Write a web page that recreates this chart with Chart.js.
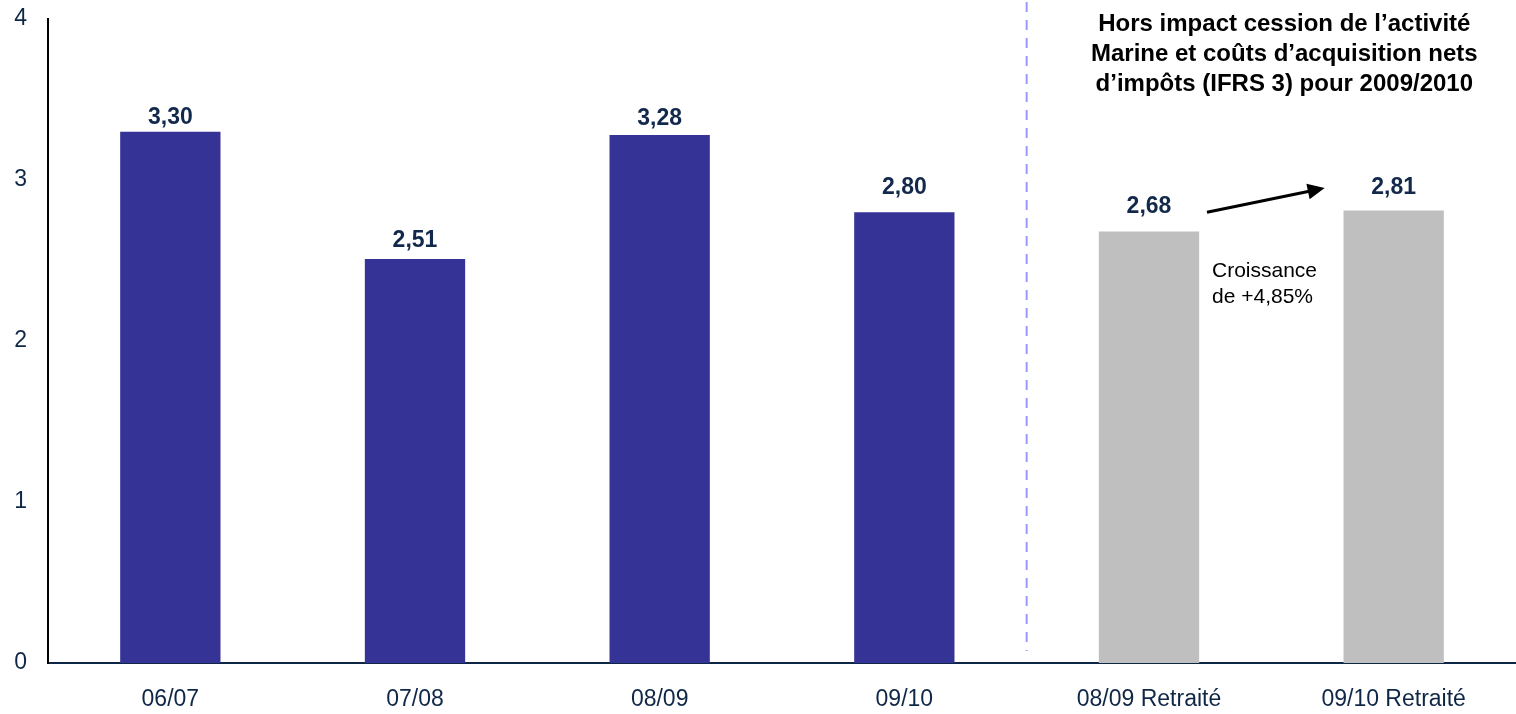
<!DOCTYPE html>
<html>
<head>
<meta charset="utf-8">
<script src="https://cdn.jsdelivr.net/npm/chart.js@4"></script>
<style>
  html, body { margin: 0; padding: 0; background: #fff; }
  #wrap { width: 1516px; height: 714px; }
</style>
</head>
<body>
<div id="wrap"><canvas id="barChart"></canvas></div>
<script>
const categories = ['06/07', '07/08', '08/09', '09/10', '08/09 Retraité', '09/10 Retraité'];
const values = [3.30, 2.51, 3.28, 2.80, 2.68, 2.81];
const barColors = ['#353396', '#353396', '#353396', '#353396', '#BFBFBF', '#BFBFBF'];
const yTicks = [0, 1, 2, 3, 4];
const noteLines = ['Hors impact cession de l\u2019activité', 'Marine et coûts d\u2019acquisition nets', 'd\u2019impôts (IFRS 3) pour 2009/2010'];
const growthLines = ['Croissance', 'de +4,85%'];

const FONT = '"Liberation Sans", Arial, sans-serif';
const NAVY = '#0F2747';

const extras = {
    id: 'extras',
    afterDatasetsDraw(chart, args, opts) {
        const ctx = chart.ctx;
        const x = chart.scales.x, y = chart.scales.y;
        const meta = chart.getDatasetMeta(0);
        ctx.save();

        // value labels
        ctx.font = 'bold 23px ' + FONT;
        ctx.fillStyle = '#13294B';
        ctx.textAlign = 'center';
        ctx.textBaseline = 'alphabetic';
        meta.data.forEach((bar, i) => {
            ctx.fillText(values[i].toFixed(2).replace('.', ','), bar.x, bar.y - opts.labelGaps[i]);
        });

        // dashed separator
        const sepX = (x.getPixelForValue(3) + x.getPixelForValue(4)) / 2;
        ctx.strokeStyle = '#9999FF';
        ctx.lineWidth = 2;
        ctx.setLineDash([10, 8]);
        ctx.beginPath();
        ctx.moveTo(sepX, 2);
        ctx.lineTo(sepX, y.getPixelForValue(0) - 12);
        ctx.stroke();
        ctx.setLineDash([]);

        // note
        ctx.font = 'bold 24px ' + FONT;
        ctx.fillStyle = '#000';
        const noteX = (x.getPixelForValue(4) + x.getPixelForValue(5)) / 2 + 13;
        noteLines.forEach((t, i) => ctx.fillText(t, noteX, 31 + i * 30));

        // arrow
        const x1 = x.getPixelForValue(4) + 58, y1 = y.getPixelForValue(2.80);
        const x2 = x.getPixelForValue(5) - 69, y2 = y.getPixelForValue(2.95);
        const ang = Math.atan2(y2 - y1, x2 - x1);
        const c = Math.cos(ang), s = Math.sin(ang);
        ctx.strokeStyle = '#000';
        ctx.lineWidth = 3;
        ctx.beginPath();
        ctx.moveTo(x1, y1);
        ctx.lineTo(x2 - 12 * c, y2 - 12 * s);
        ctx.stroke();
        ctx.beginPath();
        ctx.moveTo(x2, y2);
        ctx.lineTo(x2 - 17 * c + 8 * s, y2 - 17 * s - 8 * c);
        ctx.lineTo(x2 - 17 * c - 8 * s, y2 - 17 * s + 8 * c);
        ctx.closePath();
        ctx.fill();

        // growth text
        ctx.font = '21px ' + FONT;
        ctx.textAlign = 'left';
        growthLines.forEach((t, i) => ctx.fillText(t, x1 + 5, y.getPixelForValue(2.40) + i * 26));

        ctx.restore();
    }
};

new Chart(document.getElementById('barChart'), {
    type: 'bar',
    data: {
        labels: categories,
        datasets: [
            {
                data: values,
                backgroundColor: barColors,
                barPercentage: 0.41,
                categoryPercentage: 1,
            },
        ]
    },
    options: {
        responsive: true,
        maintainAspectRatio: false,
        animation: false,
        layout: { padding: { top: 19, right: 0, bottom: 0, left: 0 } },
        plugins: {
            legend: { display: false },
            tooltip: { enabled: false },
            extras: { labelGaps: [8, 12, 10, 18, 19, 17] }
        },
        scales: {
            x: {
                grid: { display: false, drawTicks: false },
                border: { color: NAVY, width: 2 },
                ticks: { color: NAVY, font: { family: FONT, size: 23 }, padding: 23, maxRotation: 0 },
                afterFit: s => { s.height = 51; s.paddingLeft = 0; s.paddingRight = 0; }
            },
            y: {
                min: 0,
                max: 4,
                grid: { display: false, drawTicks: false },
                border: { color: '#000', width: 2 },
                afterBuildTicks: s => { s.ticks = yTicks.map(v => ({ value: v })); },
                ticks: { color: NAVY, font: { family: FONT, size: 23 }, padding: 21 },
                afterFit: s => { s.width = 48; s.paddingTop = 0; s.paddingBottom = 0; }
            }
        }
    },
    plugins: [extras]
});
</script>
</body>
</html>
